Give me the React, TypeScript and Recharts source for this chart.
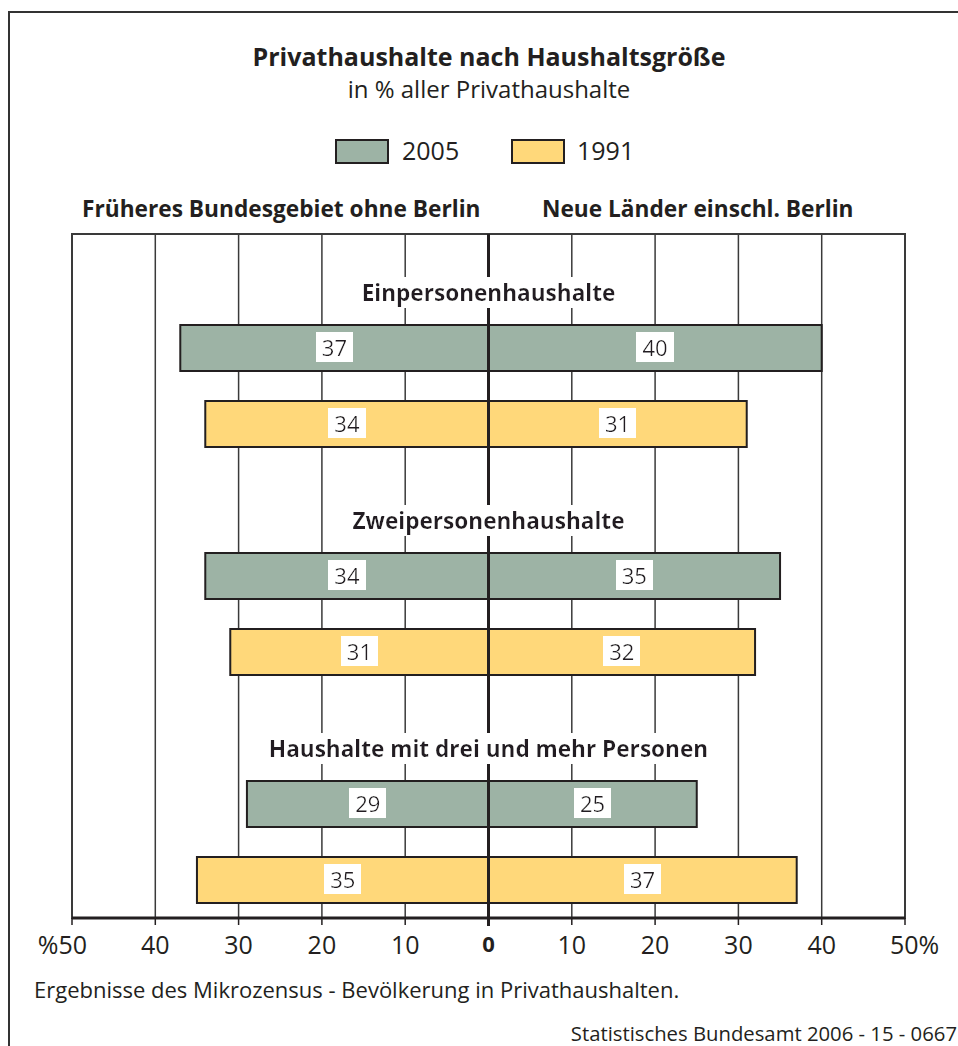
import {
  BarChart,
  Bar,
  XAxis,
  YAxis,
  CartesianGrid,
  ReferenceLine,
  ReferenceArea,
  Cell,
  LabelList,
} from 'recharts';

const groups = [
  'Einpersonenhaushalte',
  'Zweipersonenhaushalte',
  'Haushalte mit drei und mehr Personen',
];
const years = ['2005', '1991'];
const west2005 = [37, 34, 29];
const west1991 = [34, 31, 35];
const east2005 = [40, 35, 25];
const east1991 = [31, 32, 37];
const xTicks = [-50, -40, -30, -20, -10, 0, 10, 20, 30, 40, 50];

const yearColors: Record<string, string> = { '2005': '#9DB3A5', '1991': '#FFD87A' };
const FONT = '"Open Sans", "Noto Sans", sans-serif';
const INK = '#231F20';
const GRID = '#3a3a3a';

type Row = { key: string; year: string | null; west: number | null; east: number | null };

// one empty row per group (room for the group title), then one row per year
const rows: Row[] = [];
groups.forEach((_, i) => {
  rows.push({ key: `h${i}`, year: null, west: null, east: null });
  rows.push({ key: `${i}-2005`, year: '2005', west: -west2005[i], east: east2005[i] });
  rows.push({ key: `${i}-1991`, year: '1991', west: -west1991[i], east: east1991[i] });
});

function ValueBox(props: any) {
  const { x, y, width, height, value } = props;
  if (value == null) return null;
  const cx = x + width / 2;
  const cy = y + height / 2;
  return (
    <text
      x={cx}
      y={cy + 8}
      textAnchor="middle"
      fontFamily={FONT}
      fontSize={22}
      fill={INK}
      filter="url(#valueBg)"
    >
      {Math.abs(value)}
    </text>
  );
}

function GroupTitle(props: any) {
  const { viewBox, text } = props;
  if (!viewBox) return null;
  const cx = viewBox.x + viewBox.width / 2;
  return (
    <text
      x={cx}
      y={viewBox.y + 29}
      textAnchor="middle"
      fontFamily={FONT}
      fontSize={22.6}
      fontWeight={700}
      fill={INK}
      filter="url(#titleBg)"
    >
      {text}
    </text>
  );
}

function AxisTick(props: any) {
  const { x, y, payload } = props;
  const v = payload.value as number;
  const n = Math.abs(v);
  const common = { fontFamily: FONT, fontSize: 25, fill: INK };
  if (v === -50)
    return (
      <text x={x + 15} y={y + 27} textAnchor="end" {...common}>
        %{n}
      </text>
    );
  if (v === 50)
    return (
      <text x={x - 15} y={y + 27} textAnchor="start" {...common}>
        {n}%
      </text>
    );
  if (v === 0)
    return (
      <g>
        <line x1={x} x2={x} y1={y - 10} y2={y - 1} stroke={INK} strokeWidth={3} />
        <text x={x} y={y + 25} textAnchor="middle" fontWeight={700} {...common} fontSize={22}>
          0
        </text>
      </g>
    );
  return (
    <text x={x} y={y + 27} textAnchor="middle" {...common}>
      {n}
    </text>
  );
}

export default function App() {
  return (
    <div
      style={{
        position: 'absolute',
        left: 0,
        top: 0,
        width: 958,
        height: 1046,
        overflow: 'hidden',
        background: '#fff',
      }}
    >
      <svg
        width={958}
        height={1046}
        style={{ position: 'absolute', left: 0, top: 0 }}
        fontFamily={FONT}
      >
        <defs>
          <filter id="titleBg" x="-0.03" y="0" width="1.06" height="1">
            <feFlood floodColor="#fff" result="bg" />
            <feMerge>
              <feMergeNode in="bg" />
              <feMergeNode in="SourceGraphic" />
            </feMerge>
          </filter>
          <filter id="valueBg" x="-0.22" y="0" width="1.44" height="1">
            <feFlood floodColor="#fff" result="bg" />
            <feMerge>
              <feMergeNode in="bg" />
              <feMergeNode in="SourceGraphic" />
            </feMerge>
          </filter>
        </defs>
        <path d="M9 1046 V12 H958" fill="none" stroke="#333" strokeWidth={2} />
        <text x={489} y={66} textAnchor="middle" fontSize={25} fontWeight={700} fill={INK}>
          Privathaushalte nach Haushaltsgröße
        </text>
        <text x={489} y={98} textAnchor="middle" fontSize={24} fill={INK}>
          in % aller Privathaushalte
        </text>
        {years.map((yr, i) => (
          <g key={yr}>
            <rect
              x={336 + i * 176}
              y={140}
              width={52}
              height={23}
              fill={yearColors[yr]}
              stroke={INK}
              strokeWidth={2}
            />
            <text x={402 + i * 175} y={160} fontSize={25} fill={INK}>
              {yr}
            </text>
          </g>
        ))}
        <text x={82} y={217} fontSize={22.7} fontWeight={700} fill={INK}>
          Früheres Bundesgebiet ohne Berlin
        </text>
        <text x={542} y={217} fontSize={22.7} fontWeight={700} fill={INK}>
          Neue Länder einschl. Berlin
        </text>
        <text x={34} y={998} fontSize={22} fill={INK}>
          Ergebnisse des Mikrozensus - Bevölkerung in Privathaushalten.
        </text>
        <text x={957} y={1041} textAnchor="end" fontSize={20.3} fill={INK}>
          Statistisches Bundesamt 2006 - 15 - 0667
        </text>
      </svg>

      <div style={{ position: 'absolute', left: 0, top: 0 }}>
        <BarChart
          width={958}
          height={1046}
          data={rows}
          layout="vertical"
          stackOffset="sign"
          margin={{ top: 234, right: 53, bottom: 98, left: 72 }}
        >
          <CartesianGrid horizontal={false} stroke={GRID} strokeWidth={1.5} />
          <ReferenceArea x1={-50} x2={50} fill="none" stroke={GRID} strokeWidth={2} />
          <XAxis
            type="number"
            domain={[-50, 50]}
            ticks={xTicks}
            height={30}
            tick={<AxisTick />}
            tickSize={7}
            tickLine={{ stroke: INK, strokeWidth: 1.5 }}
            axisLine={{ stroke: INK, strokeWidth: 3 }}
            interval={0}
          />
          <YAxis type="category" dataKey="key" hide />
          <Bar
            dataKey="west"
            stackId="s"
            barSize={46}
            stroke={INK}
            strokeWidth={2}
            isAnimationActive={false}
          >
            {rows.map((r) => (
              <Cell key={r.key} fill={r.year ? yearColors[r.year] : 'none'} />
            ))}
            <LabelList dataKey="west" content={<ValueBox />} />
          </Bar>
          <Bar
            dataKey="east"
            stackId="s"
            barSize={46}
            stroke={INK}
            strokeWidth={2}
            isAnimationActive={false}
          >
            {rows.map((r) => (
              <Cell key={r.key} fill={r.year ? yearColors[r.year] : 'none'} />
            ))}
            <LabelList dataKey="east" content={<ValueBox />} />
          </Bar>
          <ReferenceLine x={0} stroke={INK} strokeWidth={3} />
          {groups.map((g, i) => (
            <ReferenceLine
              key={g}
              y={`h${i}`}
              stroke="none"
              label={<GroupTitle text={g} />}
            />
          ))}
        </BarChart>
      </div>
    </div>
  );
}
